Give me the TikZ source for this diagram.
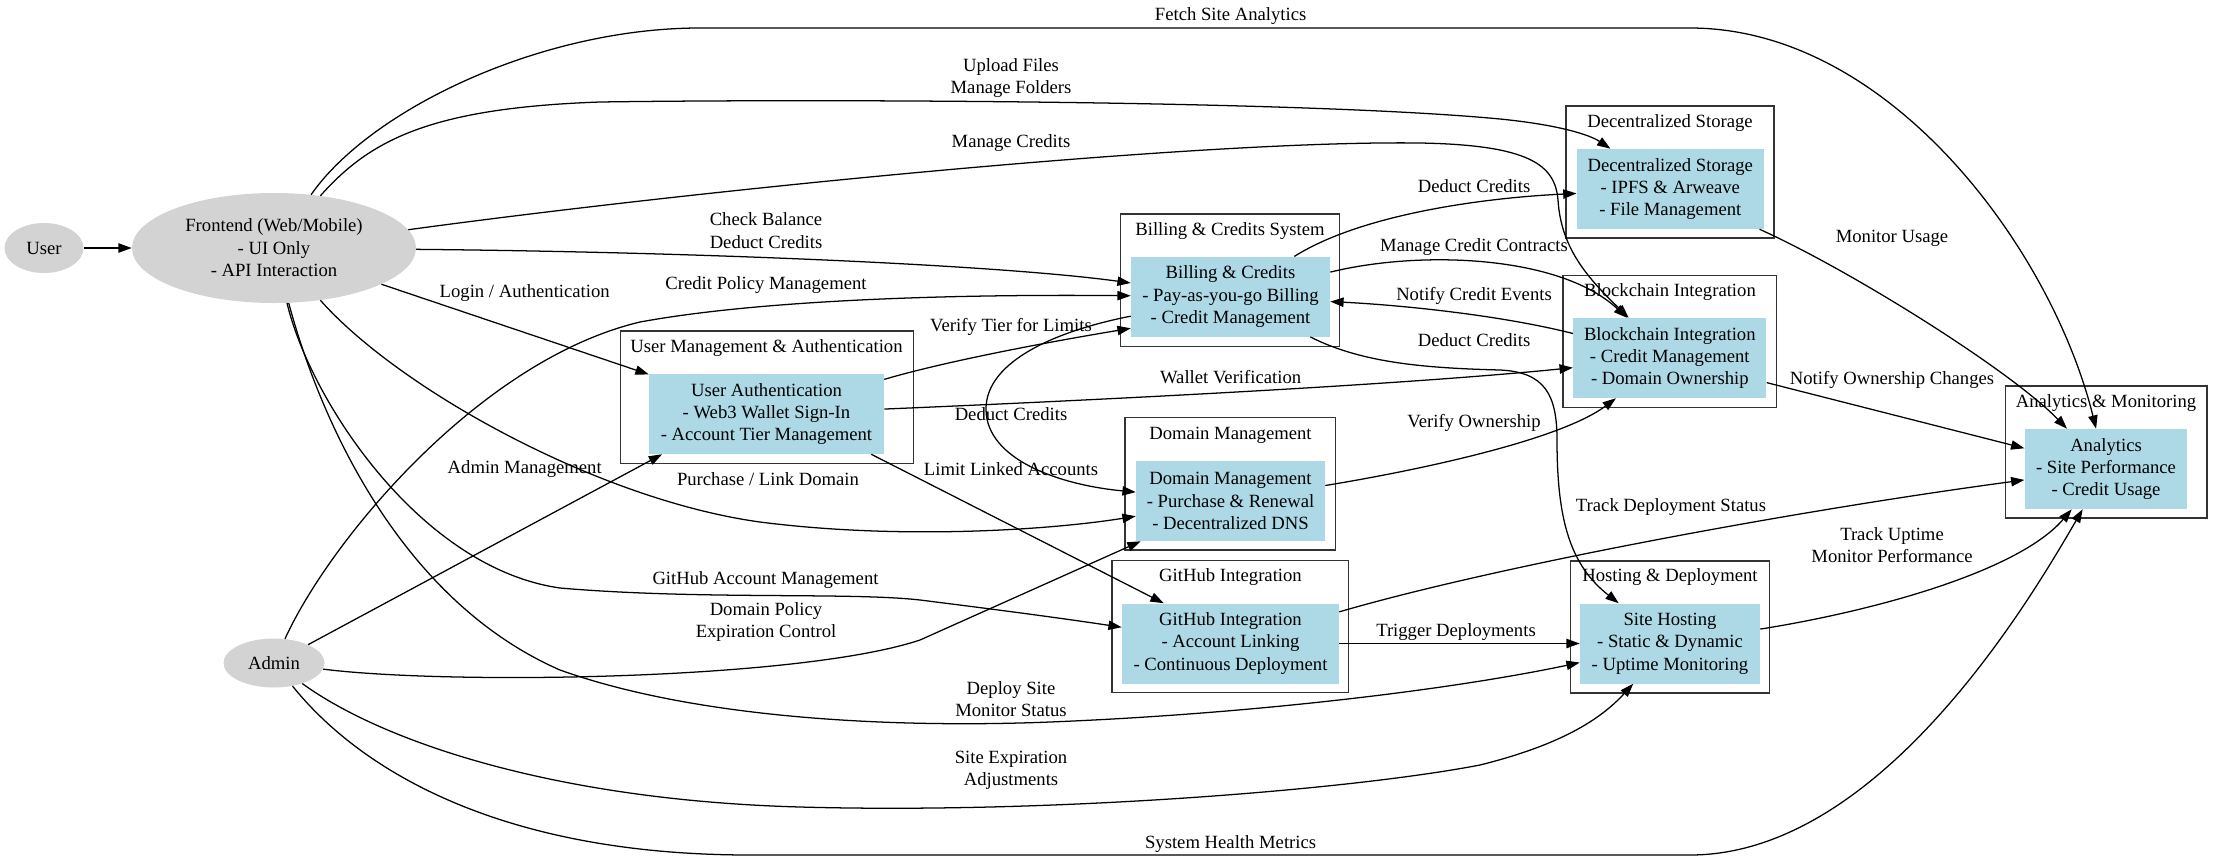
\documentclass[tikz,border=0pt]{standalone}
\usepackage{fontspec}
\setmainfont{Liberation Serif}
\usetikzlibrary{arrows.meta,shapes.geometric}
\definecolor{nodeblue}{HTML}{ADD8E6}
\definecolor{nodegray}{HTML}{D3D3D3}
\tikzset{
  base/.style={font=\fontsize{14pt}{16.8pt}\selectfont, align=center, inner sep=0pt},
  oval/.style={base, ellipse, fill=nodegray},
  svc/.style={base, rectangle, fill=nodeblue, minimum height=60pt},
  cluster/.style={draw=black!80, line width=1pt, rectangle, inner sep=0pt},
  ctitle/.style={base},
  elabel/.style={base},
  link/.style={draw=black, line width=0.95pt, -{Triangle[length=10pt,width=7pt]}},
}
\begin{document}
\begin{tikzpicture}[x=0.75pt,y=-0.75pt]
\useasboundingbox (0,0) rectangle (2223,861);

% clusters
\node[cluster, minimum width=164.25pt, minimum height=99.5pt] (cbill) at (1229.9,280.3) {};
\node[ctitle] (tbill) at (1230,231) {Billing \& Credits System};
\node[cluster, minimum width=219.75pt, minimum height=99.2pt] (cuser) at (766.9,397.2) {};
\node[ctitle] (tuser) at (766.5,348.3) {User Management \& Authentication};
\node[cluster, minimum width=158pt, minimum height=99.2pt] (cdomain) at (1230.4,483.9) {};
\node[ctitle] (tdomain) at (1230.5,435) {Domain Management};
\node[cluster, minimum width=177.4pt, minimum height=99pt] (cgithub) at (1230.3,626.7) {};
\node[ctitle] (tgithub) at (1230.5,576.7) {GitHub Integration};
\node[cluster, minimum width=156pt, minimum height=99pt] (cstorage) at (1669.9,172) {};
\node[ctitle] (tstorage) at (1670,123.3) {Decentralized Storage};
\node[cluster, minimum width=160.3pt, minimum height=98.7pt] (cblock) at (1669.9,341.5) {};
\node[ctitle] (tblock) at (1670,292.3) {Blockchain Integration};
\node[cluster, minimum width=151pt, minimum height=99pt] (canalytics) at (2106.3,452) {};
\node[ctitle] (tanalytics) at (2106,403.3) {Analytics \& Monitoring};
\node[cluster, minimum width=149pt, minimum height=99pt] (chosting) at (1670.1,627) {};
\node[ctitle] (thosting) at (1670,577) {Hosting \& Deployment};

% nodes
\node[oval, minimum width=59.25pt, minimum height=37.5pt] (user) at (44,248) {User};
\node[oval, minimum width=213pt, minimum height=82.5pt] (frontend) at (274,248) {Frontend (Web/Mobile)\\- UI Only\\- API Interaction};
\node[oval, minimum width=75.75pt, minimum height=36.75pt] (admin) at (274,663) {Admin};
\node[svc, minimum width=149.25pt] (billing) at (1230.5,296.7) {Billing \& Credits\\- Pay-as-you-go Billing\\- Credit Management};
\node[svc, minimum width=176.25pt] (userauth) at (766.5,414) {User Authentication\\- Web3 Wallet Sign-In\\- Account Tier Management};
\node[svc, minimum width=141.75pt] (domain) at (1230.5,501) {Domain Management\\- Purchase \& Renewal\\- Decentralized DNS};
\node[svc, minimum width=162.75pt] (github) at (1230.5,643.5) {GitHub Integration\\- Account Linking\\- Continuous Deployment};
\node[svc, minimum width=140.25pt] (storage) at (1670.3,189) {Decentralized Storage\\- IPFS \& Arweave\\- File Management};
\node[svc, minimum width=145pt] (blockchain) at (1669.8,358) {Blockchain Integration\\- Credit Management\\- Domain Ownership};
\node[svc, minimum width=122pt] (analytics) at (2106,469) {Analytics\\- Site Performance\\- Credit Usage};
\node[svc, minimum width=135pt] (hosting) at (1670,643.5) {Site Hosting\\- Static \& Dynamic\\- Uptime Monitoring};

% edges
\draw[link] (user) -- (frontend);
\draw[link] (frontend) .. controls (370,110) and (540,28) .. (700,28) -- (1690,28) .. controls (1890,28) and (2052,250) .. (analytics);
\draw[link] (frontend) .. controls (370,140) and (430,108) .. (600,102) .. controls (800,99) and (1300,100) .. (1500,119) .. controls (1560,125) and (1590,135) .. (storage);
\draw[link] (frontend) .. controls (700,190) and (1200,140) .. (1420,143) .. controls (1530,145) and (1555,165) .. (1558,200) .. controls (1561,250) and (1590,280) .. (blockchain);
\draw[link] (frontend) .. controls (700,252) and (1000,265) .. (billing);
\draw[link] (frontend) -- (userauth);
\draw[link] (frontend) .. controls (400,390) and (600,500) .. (760,522) .. controls (900,540) and (1050,530) .. (domain);
\draw[link] (frontend) .. controls (310,400) and (420,568) .. (560,588) .. controls (700,600) and (850,592) .. (920,600) .. controls (1000,610) and (1060,618) .. (github);
\draw[link] (frontend) .. controls (320,420) and (400,600) .. (560,670) .. controls (700,720) and (900,728) .. (1050,722) .. controls (1250,714) and (1450,690) .. (hosting);
\draw[link] (admin) .. controls (330,540) and (480,360) .. (640,322) .. controls (760,300) and (950,294) .. (billing);
\draw[link] (admin) -- ([xshift=10pt]userauth.south west);
\draw[link] (admin) .. controls (450,685) and (800,680) .. (920,640) -- (domain);
\draw[link] (admin) .. controls (380,740) and (550,800) .. (800,807) .. controls (1050,814) and (1350,790) .. (1480,765) .. controls (1560,745) and (1600,720) .. (hosting);
\draw[link] (admin) .. controls (360,770) and (500,855) .. (750,855) -- (1690,855) .. controls (1880,855) and (2030,600) .. (analytics);
\draw[link] (userauth) .. controls (950,360) and (1060,340) .. ([yshift=-23.7pt]billing.west);
\draw[link] (userauth) .. controls (1100,400) and (1400,385) .. (blockchain);
\draw[link] ([xshift=-9.75pt]userauth.south east) -- ([xshift=31.5pt]github.north west);
\draw[link] (billing) .. controls (1360,215) and (1480,198) .. (storage);
\draw[link] (billing) .. controls (1420,250) and (1560,255) .. (blockchain);
\draw[link] (blockchain) .. controls (1500,315) and (1400,305) .. (billing);
\draw[link] (billing) .. controls (1360,362) and (1420,368) .. (1500,370) .. controls (1545,372) and (1557,395) .. (1557,440) .. controls (1557,520) and (1570,565) .. (hosting);
\draw[link] (billing) .. controls (1060,330) and (985,360) .. (986,410) .. controls (987,460) and (1060,485) .. (domain);
\draw[link] (domain) .. controls (1420,470) and (1560,440) .. (blockchain);
\draw[link] (blockchain) -- (analytics);
\draw[link] (storage) .. controls (1850,270) and (2010,370) .. (analytics);
\draw[link] (github) .. controls (1500,565) and (1800,510) .. (analytics);
\draw[link] (github) -- (hosting);
\draw[link] (hosting) .. controls (1880,610) and (2020,570) .. (analytics);

% edge labels
\node[elabel] (l1) at (1230.6,16) {Fetch Site Analytics};
\node[elabel] (l2) at (1011,78.3) {Upload Files\\Manage Folders};
\node[elabel] (l3) at (1011,143.3) {Manage Credits};
\node[elabel] (l4) at (766,230.5) {Check Balance\\Deduct Credits};
\node[elabel] (l5) at (524.7,293.3) {Login / Authentication};
\node[elabel] (l6) at (768,479) {Purchase / Link Domain};
\node[elabel] (l7) at (765.5,580) {GitHub Account Management};
\node[elabel] (l8) at (1011,699.3) {Deploy Site\\Monitor Status};
\node[elabel] (l10) at (766,285) {Credit Policy Management};
\node[elabel] (l11) at (524.7,469.3) {Admin Management};
\node[elabel] (l12) at (766,622) {Domain Policy\\Expiration Control};
\node[elabel] (l13) at (1011,770) {Site Expiration\\Adjustments};
\node[elabel] (l14) at (1230.6,844) {System Health Metrics};
\node[elabel] (l15) at (1011,326.7) {Verify Tier for Limits};
\node[elabel] (l16) at (1230.6,377) {Wallet Verification};
\node[elabel] (l17) at (1011,469) {Limit Linked Accounts};
\node[elabel] (l18) at (1474,185.7) {Deduct Credits};
\node[elabel] (l19) at (1474,246.7) {Manage Credit Contracts};
\node[elabel] (l20) at (1474,296.3) {Notify Credit Events};
\node[elabel] (l21) at (1474,340) {Deduct Credits};
\node[elabel] (l22) at (1011,414) {Deduct Credits};
\node[elabel] (l23) at (1474,422.5) {Verify Ownership};
\node[elabel] (l24) at (1892,380) {Notify Ownership Changes};
\node[elabel] (l25) at (1892,238.3) {Monitor Usage};
\node[elabel] (l26) at (1671,507.3) {Track Deployment Status};
\node[elabel] (l27) at (1456,632) {Trigger Deployments};
\node[elabel] (l28) at (1892,545.3) {Track Uptime\\Monitor Performance};
\end{tikzpicture}
\end{document}
